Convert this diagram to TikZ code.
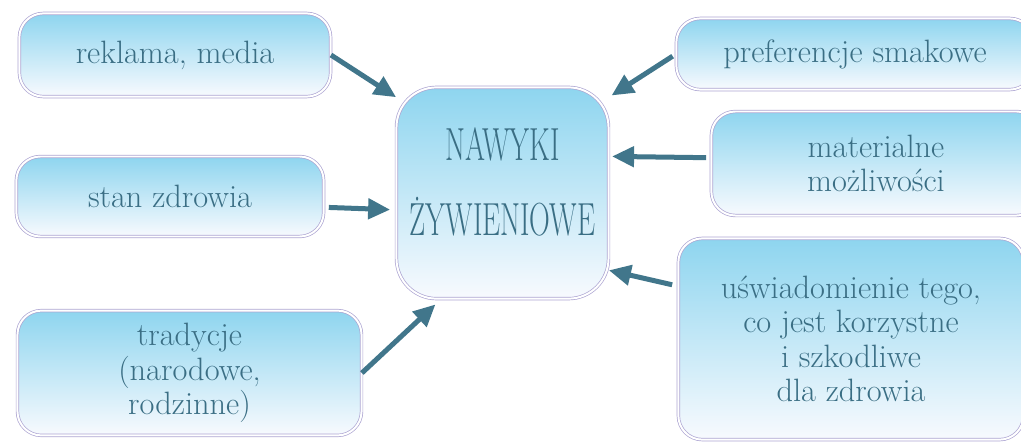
\documentclass[tikz,border=0pt]{standalone}
\usepackage{fontspec}
\usepackage{graphicx}
\usetikzlibrary{arrows.meta}
\definecolor{inkteal}{HTML}{3A6E84}
\definecolor{arrowteal}{HTML}{41768B}
\definecolor{rimlilac}{HTML}{ADA5D2}
\definecolor{skytop}{HTML}{8ED5EF}
\definecolor{skymid}{HTML}{CCE6F6}
\definecolor{skybottom}{HTML}{F8FAFE}
\begin{document}
\begin{tikzpicture}[x=0.025cm, y=-0.025cm,
  box/.style={rounded corners=0.6cm, draw=rimlilac, line width=0.5pt,
    double=white, double distance=1.4pt,
    top color=skytop, middle color=skymid, bottom color=skybottom,
    text=inkteal, align=center, inner sep=0pt,
    font=\fontsize{23}{24.5}\selectfont},
  arr/.style={-{Triangle[length=0.55cm,width=0.5cm]}, line width=0.125cm, draw=arrowteal}]
  \def\narrow#1{\scalebox{0.62}[1]{#1}}
  \useasboundingbox (0,0) rectangle (1021,442);
  \clip (0,0) rectangle (1021,442);

  % left column
  \node[box, minimum width=7.78cm, minimum height=2.08cm] (reklama) at (175,55) {reklama, media};
  \node[box, minimum width=7.68cm, minimum height=2cm] (stan) at (170,196.5) {stan zdrowia};
  \node[box, minimum width=8.6cm, minimum height=3.12cm] (tradycje) at (189.5,373) {tradycje\\(narodowe,\\rodzinne)};

  % centre
  \node[box, rounded corners=1cm, minimum width=5.3cm, minimum height=5.28cm,
    font=\fontsize{33}{53}\selectfont, text depth=16pt] (nawyki) at (502.5,193)
    {\narrow{NAWYKI}\\\narrow{ŻYWIENIOWE}};

  % right column
  \node[box, minimum width=8.93cm, minimum height=1.78cm] (smak) at (855,54) {preferencje smakowe};
  \node[box, minimum width=8.23cm, minimum height=2.6cm] (material) at (876,163.5) {materialne\\możliwości};
  \node[box, minimum width=8.63cm, minimum height=5.03cm] (wiedza) at (851,339) {uświadomienie tego,\\co jest korzystne\\i szkodliwe\\dla zdrowia};

  % arrows
  \draw[arr] (reklama.east) -- (nawyki.138);
  \draw[arr, shorten <=0.12cm, shorten >=0.15cm] (stan.-4) -- (nawyki.189);
  \draw[arr, shorten >=0.2cm] (tradycje.east) -- (nawyki.240);
  \draw[arr, shorten <=0.1cm, shorten >=0.08cm] (smak.west) -- (nawyki.42);
  \draw[arr, shorten <=0.12cm, shorten >=0.08cm] (material.178) -- (nawyki.19);
  \draw[arr, shorten <=0.15cm] (wiedza.163) -- (nawyki.-36);
\end{tikzpicture}
\end{document}
